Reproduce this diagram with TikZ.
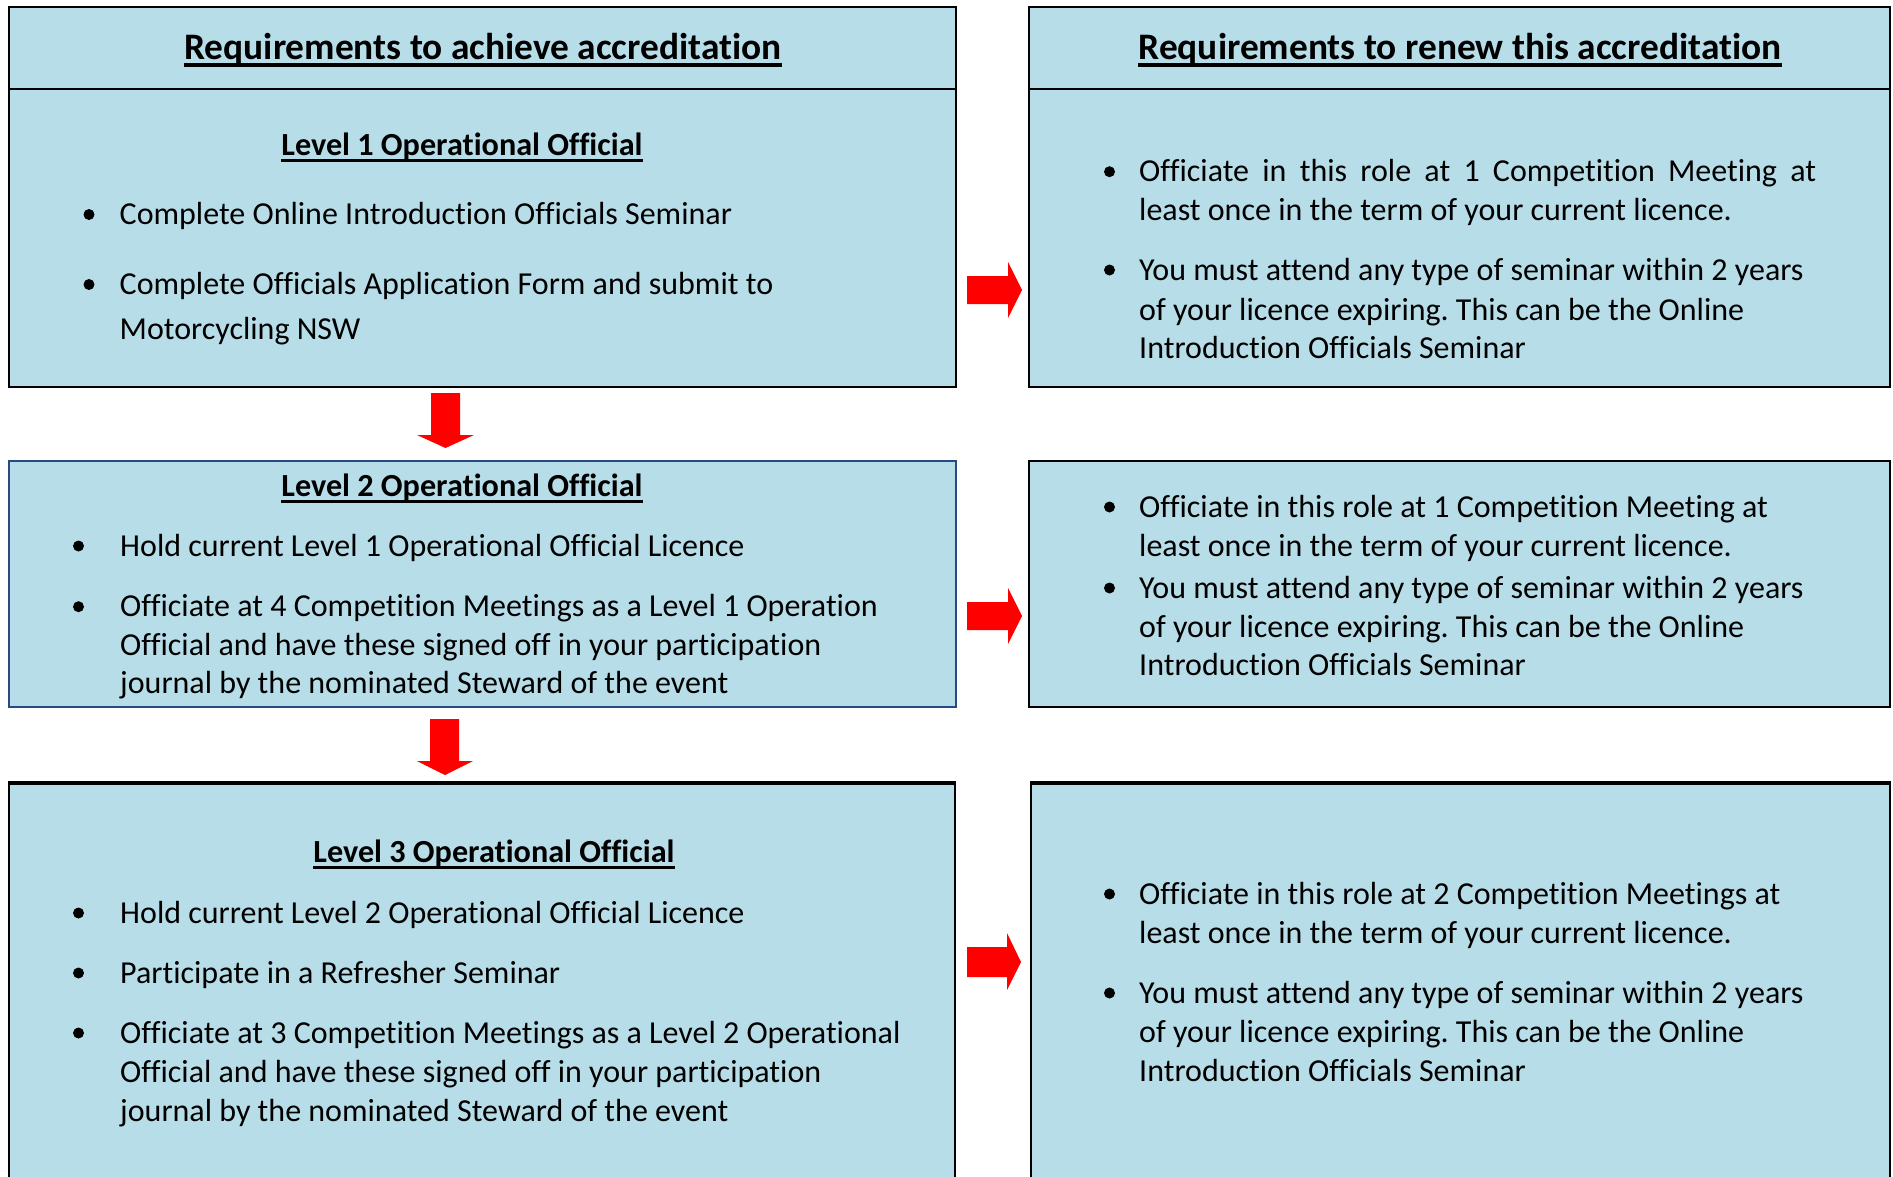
\documentclass[tikz,border=0pt]{standalone}
\usepackage{fontspec}
\setmainfont{Carlito}[Ligatures=NoCommon]
\usetikzlibrary{calc}
\definecolor{boxfill}{HTML}{B7DDE8}
\definecolor{navyline}{HTML}{254B82}
\definecolor{arrowred}{HTML}{FF0000}
\frenchspacing
\begin{document}
\frenchspacing
\begin{tikzpicture}[x=1pt,y=-1pt,
  panel/.style={fill=boxfill,draw=black,line width=2.5pt},
  txt/.style={anchor=base west,inner sep=0pt,font=\frenchspacing\fontsize{32}{38}\selectfont},
  headtxt/.style={anchor=base,inner sep=0pt,font=\bfseries\fontsize{37.4}{44}\selectfont},
  lvltxt/.style={anchor=base,inner sep=0pt,font=\bfseries\fontsize{32.2}{38}\selectfont},
  bul/.style={circle,fill=black,inner sep=0pt,minimum size=11pt},
  uline/.style={line width=2.6pt},
  redarrow/.style={fill=arrowred,draw=none}]
\useasboundingbox (0,0) rectangle (1893,1176);
\clip (0,0) rectangle (1893,1176);
\fill[white] (0,0) rectangle (1893,1176);

% panels
\draw[panel] (9,7) rectangle (956,387);
\draw[panel] (9,89) -- (956,89);
\draw[panel] (1029,7) rectangle (1890,387);
\draw[panel] (1029,89) -- (1890,89);
\draw[panel,draw=navyline,line width=2pt] (9,461) rectangle (956,707);
\draw[panel] (1029,461) rectangle (1890,707);
\draw[panel,line width=1.8pt] (9,783) rectangle (955,1220);
\draw[black,line width=3.5pt] (8,783) -- (956,783);
\draw[panel,line width=1.8pt] (1031,783) rectangle (1890,1220);
\draw[black,line width=3.5pt] (1030,783) -- (1891,783);

% arrows
\fill[redarrow] (967,276) -- (1008,276) -- (1008,262) -- (1022,290) -- (1008,318) -- (1008,304) -- (967,304) -- cycle;
\fill[redarrow] (967,602) -- (1008,602) -- (1008,588) -- (1022,616) -- (1008,644) -- (1008,630) -- (967,630) -- cycle;
\fill[redarrow] (967,947) -- (1007,947) -- (1007,933) -- (1021,962) -- (1007,990) -- (1007,977) -- (967,977) -- cycle;
\fill[redarrow] (431,393) -- (460,393) -- (460,435) -- (474,435) -- (445.5,448) -- (417,435) -- (431,435) -- cycle;
\fill[redarrow] (430,719) -- (459,719) -- (459,761) -- (473,761) -- (445,775) -- (417,761) -- (430,761) -- cycle;

% headings
\node[headtxt] (h1) at (483,59) {Requirements to achieve accreditation};
\draw[uline,line width=3.6pt] ($(h1.base west)+(0,5.7)$) -- ($(h1.base east)+(0,5.7)$);
\node[headtxt] (h2) at (1460,59) {Requirements to renew this accreditation};
\draw[uline,line width=3.6pt] ($(h2.base west)+(0,5.7)$) -- ($(h2.base east)+(0,5.7)$);

\node[lvltxt] (l1) at (462,155) {Level 1 Operational Official};
\draw[uline] ($(l1.base west)+(0,5.2)$) -- ($(l1.base east)+(0,5.2)$);
\node[lvltxt] (l2) at (462,496) {Level 2 Operational Official};
\draw[uline] ($(l2.base west)+(0,5.2)$) -- ($(l2.base east)+(0,5.2)$);
\node[lvltxt] (l3) at (494,862) {Level 3 Operational Official};
\draw[uline] ($(l3.base west)+(0,5.2)$) -- ($(l3.base east)+(0,5.2)$);

% row 1 left
\node[bul] (b11) at (89,214.5) {};
\node[txt] (t11) at (119.5,224.5) {Complete Online Introduction Officials Seminar};
\node[bul] (b12) at (89,284.5) {};
\node[txt] (t12) at (119.5,294.5) {Complete Officials Application Form and submit to};
\node[txt] (t13) at (119.5,339) {Motorcycling NSW};

% row 1 right
\node[bul] (r11) at (1109.5,171.7) {};
\node[txt] (s11) at (1139,181.7) {\makebox[677pt][s]{Officiate in this role at 1 Competition Meeting at}};
\node[txt] (s12) at (1139,220.7) {least once in the term of your current licence.};
\node[bul] (r12) at (1109.5,270) {};
\node[txt] (s13) at (1139,280) {You must attend any type of seminar within 2 years};
\node[txt] (s14) at (1139,320) {of your licence expiring. This can be the Online};
\node[txt] (s15) at (1139,358.3) {Introduction Officials Seminar};

% row 2 left
\node[bul] (b21) at (78.5,546) {};
\node[txt] (t21) at (120,556) {Hold current Level 1 Operational Official Licence};
\node[bul] (b22) at (78.5,606.7) {};
\node[txt] (t22) at (120,616.7) {Officiate at 4 Competition Meetings as a Level 1 Operation};
\node[txt] (t23) at (120,655) {Official and have these signed off in your participation};
\node[txt] (t24) at (120,693.3) {journal by the nominated Steward of the event};

% row 2 right
\node[bul] (r21) at (1109.5,507) {};
\node[txt] (s21) at (1139,517) {Officiate in this role at 1 Competition Meeting at};
\node[txt] (s22) at (1139,556) {least once in the term of your current licence.};
\node[bul] (r22) at (1109.5,588) {};
\node[txt] (s23) at (1139,598) {You must attend any type of seminar within 2 years};
\node[txt] (s24) at (1139,637) {of your licence expiring. This can be the Online};
\node[txt] (s25) at (1139,675) {Introduction Officials Seminar};

% row 3 left
\node[bul] (b31) at (78.5,913) {};
\node[txt] (t31) at (120,923) {Hold current Level 2 Operational Official Licence};
\node[bul] (b32) at (78.5,973) {};
\node[txt] (t32) at (120,983) {Participate in a Refresher Seminar};
\node[bul] (b33) at (78.5,1033) {};
\node[txt] (t33) at (120,1043) {Officiate at 3 Competition Meetings as a Level 2 Operational};
\node[txt] (t34) at (120,1082) {Official and have these signed off in your participation};
\node[txt] (t35) at (120,1121) {journal by the nominated Steward of the event};

% row 3 right
\node[bul] (r31) at (1109.5,894) {};
\node[txt] (s31) at (1139,904) {Officiate in this role at 2 Competition Meetings at};
\node[txt] (s32) at (1139,943) {least once in the term of your current licence.};
\node[bul] (r32) at (1109.5,993) {};
\node[txt] (s33) at (1139,1003) {You must attend any type of seminar within 2 years};
\node[txt] (s34) at (1139,1042) {of your licence expiring. This can be the Online};
\node[txt] (s35) at (1139,1081) {Introduction Officials Seminar};
\end{tikzpicture}
\end{document}
